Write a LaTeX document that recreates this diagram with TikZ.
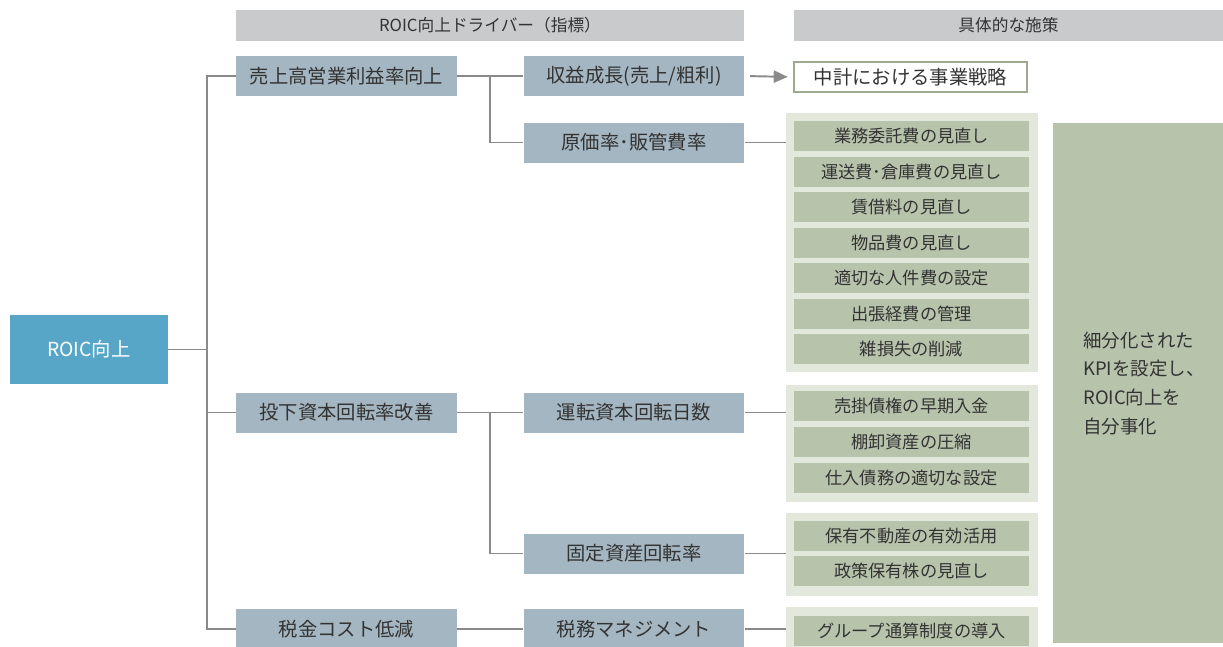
\documentclass[tikz,border=0pt]{standalone}
\usepackage{fontspec}
\setmainfont{Noto Sans CJK JP}
\usetikzlibrary{arrows.meta}
\definecolor{roicblue}{HTML}{58A6C7}
\definecolor{lvlgrey}{HTML}{A4B6C1}
\definecolor{headgrey}{HTML}{C9CACB}
\definecolor{grpbg}{HTML}{E3E8DC}
\definecolor{grpbox}{HTML}{B7C3AB}
\definecolor{planline}{HTML}{9DAA91}
\definecolor{lineg}{HTML}{8A8A8A}
\definecolor{txt}{HTML}{333333}
\begin{document}
\begin{tikzpicture}[x=0.02cm,y=-0.02cm,
  head/.style={fill=headgrey,minimum width=#1,minimum height=0.62cm,inner sep=0pt,
    text=txt,font=\fontsize{9.5}{11}\selectfont},
  lvl/.style={fill=lvlgrey,minimum width=4.42cm,minimum height=0.8cm,inner sep=0pt,
    text=txt,font=\fontsize{11}{13}\selectfont},
  grp/.style={fill=grpbg,minimum width=5.04cm,minimum height=#1,inner sep=0pt},
  item/.style={fill=grpbox,minimum width=4.7cm,minimum height=0.6cm,inner sep=0pt,
    text=txt,font=\fontsize{9.8}{11}\selectfont},
  conn/.style={draw=lineg,line width=1.1pt},
]
\useasboundingbox (0,0) rectangle (1223,646);

% Headers
\node[head=10.16cm] (hdrA) at (490,25.5) {ROIC向上ドライバー（指標）};
\node[head=8.58cm] (hdrB) at (1008.5,25.5) {具体的な施策};

% Root
\node[fill=roicblue,minimum width=3.16cm,minimum height=1.38cm,inner sep=0pt,
  text=white,font=\fontsize{11}{13}\selectfont] (roic) at (89,349.5) {ROIC向上};

% Drivers, first level
\node[lvl] (margin) at (346.5,76) {売上高営業利益率向上};
\node[lvl] (turn) at (346.5,412.5) {投下資本回転率改善};
\node[lvl] (tax) at (346.5,629) {税金コスト低減};

% Drivers, second level
\node[lvl] (growth) at (634,76) {収益成長(売上/粗利)};
\node[lvl] (cost) at (634,142.5) {原価率･販管費率};
\node[lvl] (wcdays) at (634,412.5) {運転資本回転日数};
\node[lvl] (fixed) at (634,553.5) {固定資産回転率};
\node[lvl] (taxmgmt) at (634,629) {税務マネジメント};

% Measures
\node[fill=white,draw=planline,line width=1.2pt,minimum width=4.66cm,minimum height=0.6cm,
  inner sep=0pt,text=txt,font=\fontsize{11}{13}\selectfont] (plan) at (910.5,77) {中計における事業戦略};

\node[grp=5.18cm] (grpA) at (912,242.5) {};
\node[item] (a1) at (911.5,136) {業務委託費の見直し};
\node[item] (a2) at (911.5,171.5) {運送費･倉庫費の見直し};
\node[item] (a3) at (911.5,207) {賃借料の見直し};
\node[item] (a4) at (911.5,242.5) {物品費の見直し};
\node[item] (a5) at (911.5,278) {適切な人件費の設定};
\node[item] (a6) at (911.5,313.5) {出張経費の管理};
\node[item] (a7) at (911.5,349) {雑損失の削減};

\node[grp=2.34cm] (grpB) at (912,443.5) {};
\node[item] (b1) at (911.5,406) {売掛債権の早期入金};
\node[item] (b2) at (911.5,442) {棚卸資産の圧縮};
\node[item] (b3) at (911.5,478) {仕入債務の適切な設定};

\node[grp=1.66cm] (grpC) at (912,554.5) {};
\node[item] (c1) at (911.5,536) {保有不動産の有効活用};
\node[item] (c2) at (911.5,571) {政策保有株の見直し};

\node[grp=1.06cm] (grpD) at (912,633.5) {};
\node[item] (d1) at (911.5,630.5) {グループ通算制度の導入};

% Summary
\node[fill=grpbox,anchor=north west,minimum height=10.4cm,text width=2.8cm,
  inner xsep=0.6cm,align=left,text=txt,font=\fontsize{10.5}{16.4}\selectfont] (kpi) at (1053,123)
  {細分化された\\KPIを設定し、\\ROIC向上を\\自分事化};

% Connectors
\coordinate (trunk) at (207,0);
\coordinate (forkA) at (490,0);
\draw[conn] (roic.east) -- (roic.east -| trunk);
\draw[conn] (margin.west) -- (margin.west -| trunk) |- (tax.west);
\draw[conn] (turn.west) -- (turn.west -| trunk);
\draw[conn] (margin.east) -- (growth.west);
\draw[conn] (margin.east -| forkA) |- (cost.west);
\draw[conn] (turn.east) -- (wcdays.west);
\draw[conn] (turn.east -| forkA) |- (fixed.west);
\draw[conn] (tax.east) -- (taxmgmt.west);
\draw[conn,-{Triangle[length=8pt,width=7pt]},shorten <=3pt,shorten >=3pt] (growth.east) -- (plan.west);
\draw[conn] (cost.east) -- (cost.east -| grpA.west);
\draw[conn] (wcdays.east) -- (wcdays.east -| grpB.west);
\draw[conn] (fixed.east) -- (fixed.east -| grpC.west);
\draw[conn] (taxmgmt.east) -- (taxmgmt.east -| grpD.west);
\end{tikzpicture}
\end{document}
